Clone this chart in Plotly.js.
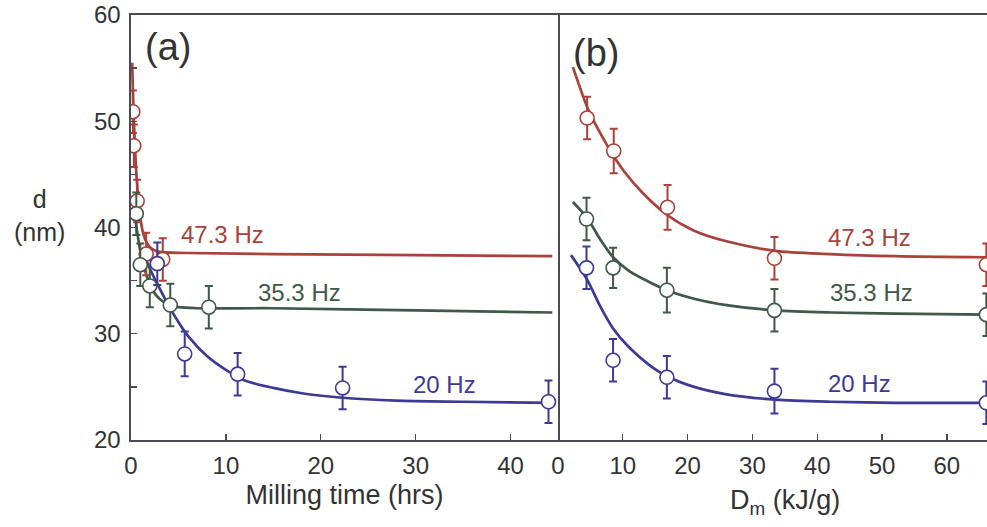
<!DOCTYPE html>
<html>
<head>
<meta charset="utf-8">
<script src="https://cdn.plot.ly/plotly-3.0.1.min.js"></script>
<style>html,body{margin:0;padding:0;background:#fff;}#chart{width:987px;height:527px;}</style>
</head>
<body>
<div id="chart"></div>
<script>
// ---- Panel (a): d vs milling time (hrs) ----
const redTimeA   = [0.2, 0.3, 0.65, 1.6, 3.35];
const redDA      = [50.9, 47.7, 42.5, 37.5, 37.0];
const redErrA    = [2.0, 2.0, 2.0, 2.0, 2.0];
const greenTimeA = [0.56, 0.98, 1.98, 4.14, 8.2];
const greenDA    = [41.3, 36.5, 34.5, 32.7, 32.5];
const greenErrA  = [2.0, 2.0, 2.0, 2.0, 2.0];
const blueTimeA  = [2.77, 5.66, 11.24, 22.3, 44.0];
const blueDA     = [36.6, 28.1, 26.2, 24.9, 23.6];
const blueErrA   = [2.0, 2.1, 2.0, 2.0, 2.0];

// fitted curves in (a)
const redFitTimeA   = [0.12, 0.2, 0.3, 0.45, 0.6, 0.8, 1.0, 1.3, 1.7, 2.2, 3.0, 6, 15, 30, 44.4];
const redFitDA      = [55.5, 52.9, 50.2, 47.0, 44.6, 42.4, 40.8, 39.4, 38.5, 38.0, 37.7, 37.6, 37.5, 37.4, 37.3];
const greenFitTimeA = [0.27, 0.5, 0.75, 1.0, 1.5, 2.0, 2.5, 3.0, 4.0, 5.0, 7.0, 15, 30, 44.4];
const greenFitDA    = [42.4, 40.6, 39.0, 37.7, 35.9, 34.6, 33.8, 33.3, 32.7, 32.5, 32.4, 32.4, 32.2, 32.0];
const blueFitTimeA  = [1.4, 2.0, 3.0, 4.0, 5.0, 6.0, 8.0, 10, 12, 15, 18, 22, 28, 35, 44.4];
const blueFitDA     = [37.4, 36.1, 34.3, 32.6, 31.1, 29.8, 27.9, 26.6, 25.6, 24.9, 24.4, 24.0, 23.7, 23.6, 23.5];

// ---- Panel (b): d vs Dm (kJ/g) ----
const redDmB     = [4.5, 8.6, 16.9, 33.4, 66.1];
const redDB      = [50.3, 47.2, 41.9, 37.1, 36.5];
const redErrB    = [2.0, 2.1, 2.1, 2.0, 2.0];
const greenDmB   = [4.4, 8.5, 16.8, 33.4, 66.1];
const greenDB    = [40.8, 36.2, 34.1, 32.2, 31.8];
const greenErrB  = [2.0, 1.9, 2.1, 2.0, 2.0];
const blueDmB    = [4.4, 8.5, 16.8, 33.4, 66.1];
const blueDB     = [36.2, 27.5, 25.9, 24.6, 23.5];
const blueErrB   = [2.0, 2.0, 2.0, 2.1, 2.0];

const redFitDmB   = [2.3, 4.6, 6.5, 8.6, 10.3, 13, 16.8, 21, 26, 33.5, 42, 52, 66.2];
const redFitDB    = [55.1, 51.2, 48.9, 46.7, 45.2, 43.3, 41.2, 39.7, 38.7, 37.8, 37.5, 37.3, 37.2];
const greenFitDmB = [2.3, 4.5, 6.5, 8.5, 11, 14, 16.8, 21, 26, 33.5, 42, 52, 66.2];
const greenFitDB  = [42.4, 40.9, 38.9, 37.2, 35.9, 34.9, 34.1, 33.3, 32.7, 32.2, 32.0, 31.9, 31.8];
const blueFitDmB  = [2.0, 4.5, 6.5, 8.5, 11, 14, 16.8, 21, 26, 33.5, 42, 52, 66.2];
const blueFitDB   = [37.4, 35.1, 32.6, 30.5, 28.7, 27.1, 26.0, 25.0, 24.3, 23.8, 23.6, 23.5, 23.5];

const seriesNames = ['47.3 Hz', '35.3 Hz', '20 Hz'];
const xTickA = [0, 10, 20, 30, 40];
const xTickB = [0, 10, 20, 30, 40, 50, 60];
const yTick  = [20, 30, 40, 50, 60];

const RED = '#a9423a', GREEN = '#3f5847', BLUE = '#3d3a96';
const AXC = '#4a4a58';
const FONT = 'Liberation Sans, Arial, Helvetica, sans-serif';

function fit(x, y, c, xa, ya) {
  return {x: x, y: y, xaxis: xa, yaxis: ya, mode: 'lines', type: 'scatter',
          line: {color: c, width: 2.7, shape: 'spline', smoothing: 0.8}, hoverinfo: 'skip'};
}
function pts(x, y, e, c, xa, ya, name) {
  return {x: x, y: y, xaxis: xa, yaxis: ya, mode: 'markers', type: 'scatter', name: name,
          marker: {symbol: 'circle', size: 14, color: '#ffffff', line: {color: c, width: 1.6}},
          error_y: {type: 'data', array: e, visible: true, color: c, thickness: 2, width: 4}};
}

const data = [
  fit(redFitTimeA, redFitDA, RED, 'x', 'y'),
  fit(greenFitTimeA, greenFitDA, GREEN, 'x', 'y'),
  fit(blueFitTimeA, blueFitDA, BLUE, 'x', 'y'),
  pts(redTimeA, redDA, redErrA, RED, 'x', 'y', seriesNames[0]),
  pts(greenTimeA, greenDA, greenErrA, GREEN, 'x', 'y', seriesNames[1]),
  pts(blueTimeA, blueDA, blueErrA, BLUE, 'x', 'y', seriesNames[2]),
  fit(redFitDmB, redFitDB, RED, 'x2', 'y2'),
  fit(greenFitDmB, greenFitDB, GREEN, 'x2', 'y2'),
  fit(blueFitDmB, blueFitDB, BLUE, 'x2', 'y2'),
  pts(redDmB, redDB, redErrB, RED, 'x2', 'y2', seriesNames[0]),
  pts(greenDmB, greenDB, greenErrB, GREEN, 'x2', 'y2', seriesNames[1]),
  pts(blueDmB, blueDB, blueErrB, BLUE, 'x2', 'y2', seriesNames[2])
];

const axBase = {showline: true, linecolor: AXC, linewidth: 1.6, showgrid: false, zeroline: false,
                ticks: 'inside', ticklen: 6, tickwidth: 1.4, tickcolor: AXC,
                tickfont: {family: FONT, size: 24, color: '#333333'}};

const split = (558 - 131) / 856;

const layout = {
  width: 987, height: 527,
  margin: {l: 131, r: 0, t: 15, b: 87, pad: 0},
  paper_bgcolor: '#ffffff', plot_bgcolor: '#ffffff',
  showlegend: false,
  font: {family: FONT, color: '#333333'},
  xaxis: Object.assign({}, axBase, {domain: [0, split], range: [0, 45], tickvals: xTickA,
          mirror: true, anchor: 'y', ticklabelstandoff: 4,
          title: {text: 'Milling time (hrs)', font: {family: FONT, size: 27, color: '#333333'}, standoff: 6}}),
  yaxis: Object.assign({}, axBase, {domain: [0, 1], range: [20, 60], tickvals: yTick,
          mirror: true, anchor: 'x', ticklabelstandoff: 4,
          minor: {dtick: 5, tick0: 20, ticks: 'inside', ticklen: 6, tickwidth: 1.4, tickcolor: AXC}}),
  xaxis2: Object.assign({}, axBase, {domain: [split, 1], range: [0, 66.2], tickvals: xTickB,
          mirror: true, anchor: 'y2', ticklabelstandoff: 4}),
  yaxis2: Object.assign({}, axBase, {domain: [0, 1], range: [20, 60], anchor: 'x2',
          showticklabels: false, ticks: '', showline: false, mirror: false}),
  annotations: [
    {xref: 'x', yref: 'y', x: 3.9, y: 57.0, text: '(a)', showarrow: false, font: {family: FONT, size: 38, color: '#333333'}},
    {xref: 'x2', yref: 'y2', x: 5.8, y: 56.4, text: '(b)', showarrow: false, font: {family: FONT, size: 38, color: '#333333'}},
    {xref: 'x', yref: 'y', x: 9.66, y: 39.3, text: seriesNames[0], showarrow: false, font: {family: FONT, size: 24, color: RED}},
    {xref: 'x', yref: 'y', x: 17.8, y: 33.9, text: seriesNames[1], showarrow: false, font: {family: FONT, size: 24, color: GREEN}},
    {xref: 'x', yref: 'y', x: 33.0, y: 25.2, text: seriesNames[2], showarrow: false, font: {family: FONT, size: 24, color: BLUE}},
    {xref: 'x2', yref: 'y2', x: 48.1, y: 39.1, text: seriesNames[0], showarrow: false, font: {family: FONT, size: 24, color: RED}},
    {xref: 'x2', yref: 'y2', x: 48.3, y: 33.9, text: seriesNames[1], showarrow: false, font: {family: FONT, size: 24, color: GREEN}},
    {xref: 'x2', yref: 'y2', x: 46.6, y: 25.3, text: seriesNames[2], showarrow: false, font: {family: FONT, size: 24, color: BLUE}},
    {xref: 'paper', yref: 'paper', x: (39 - 131) / 856, y: (440 - 216) / 425, text: 'd<br>(nm)', showarrow: false,
     xanchor: 'center', yanchor: 'middle', font: {family: FONT, size: 25, color: '#333333'}},
    {xref: 'paper', yref: 'paper', x: (785 - 131) / 856, y: (440 - 502) / 425, text: 'D<sub>m</sub> (kJ/g)', showarrow: false,
     xanchor: 'center', yanchor: 'middle', font: {family: FONT, size: 27, color: '#333333'}}
  ]
};

Plotly.newPlot('chart', data, layout, {staticPlot: true, displayModeBar: false});
</script>
</body>
</html>
